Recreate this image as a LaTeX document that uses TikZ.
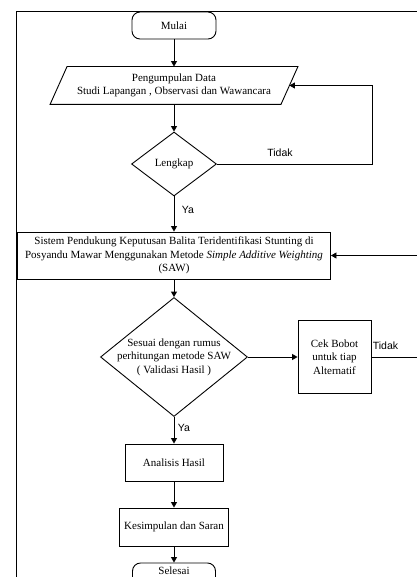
\documentclass[tikz,border=0pt]{standalone}
\usepackage{fontspec}
\setmainfont{Liberation Serif}
\newfontfamily\labelfont{Liberation Sans}
\usetikzlibrary{shapes.geometric,arrows.meta}

\begin{document}
\begin{tikzpicture}[x=1pt,y=-1pt, line width=0.9pt,
 font=\fontsize{11}{13.5}\selectfont,
 box/.style={draw, rectangle, align=center, inner sep=0pt},
 term/.style={draw, rectangle, rounded corners=8pt, minimum width=84pt, minimum height=27pt, inner sep=0pt},
 dec/.style={draw, diamond, inner sep=0pt},
 arr/.style={-{Triangle[length=5.5pt,width=6pt]}},
 lbl/.style={font=\labelfont\fontsize{10.5}{12}\selectfont, inner sep=0pt}]
\useasboundingbox (0,0) rectangle (416,577);

% outer frame (partly cropped)
\draw (440,11) -- (16.5,11) -- (16.5,600);

\node[term] (mulai) at (174,25.5) {Mulai};

\node[minimum width=230pt, minimum height=37pt, inner sep=0pt, align=center] (data) at (174,85.5)
  {Pengumpulan Data\\Studi Lapangan , Observasi dan Wawancara};
\draw ([xshift=8.5pt]data.north west) -- ([xshift=8.5pt]data.north east)
  -- ([xshift=-8.5pt]data.south east) -- ([xshift=-8.5pt]data.south west) -- cycle;

\node[dec, minimum width=85pt, minimum height=64pt] (lengkap) at (174,164) {Lengkap};

\node[box, minimum width=313pt, minimum height=47pt] (sistem) at (174,255.5)
  {Sistem Pendukung Keputusan Balita Teridentifikasi Stunting di\\Posyandu Mawar Menggunakan Metode \textit{Simple Additive Weighting}\\(SAW)};

\node[dec, minimum width=147pt, minimum height=119pt] (saw) at (174,357) {};
\node[align=center, inner sep=0pt] (sawtext) at (saw.center)
  {Sesuai dengan rumus\\perhitungan metode SAW\\( Validasi Hasil )};

\node[box, minimum width=73pt, minimum height=73pt] (cek) at (334.5,357) {Cek Bobot\\untuk tiap\\Alternatif};

\node[box, minimum width=98pt, minimum height=37pt] (analisis) at (174,462.5) {Analisis Hasil};
\node[box, minimum width=109pt, minimum height=38pt] (kesimpulan) at (174,527) {Kesimpulan dan Saran};
\node[term, minimum width=83pt, text height=0pt, text depth=0pt] (selesai) at (174,576.5) {\raisebox{2.5pt}{Selesai}};

% connectors
\draw[arr] (mulai.south) -- (data.north);
\draw[arr] (data.south) -- (lengkap.north);
\draw[arr] (lengkap.east) -- ++(155,0) |- (data.east);
\node[lbl] (tidak1) at (280,153) {Tidak};
\draw[arr] (lengkap.south) -- (sistem.north);
\node[lbl] (ya1) at (188,210) {Ya};
\draw[arr] (sistem.south) -- (saw.north);
\draw[arr] (saw.east) -- (cek.west);
\draw[arr] (cek.east) -- ++(60,0) |- (sistem.east);
\node[lbl] (tidak2) at (385.5,346) {Tidak};
\draw[arr] (saw.south) -- (analisis.north);
\node[lbl] (ya2) at (184,428) {Ya};
\draw[arr] (analisis.south) -- (kesimpulan.north);
\draw[arr] (kesimpulan.south) -- (selesai.north);
\end{tikzpicture}
\end{document}
